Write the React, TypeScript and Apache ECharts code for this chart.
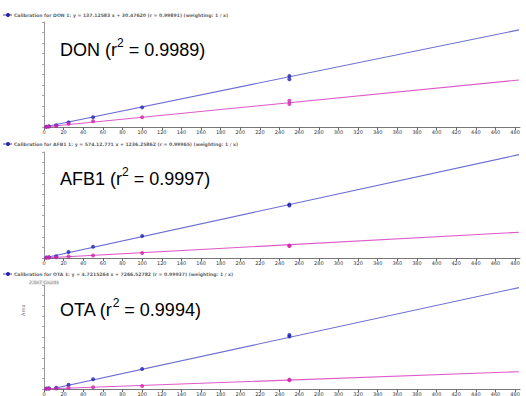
import React, { useEffect, useRef } from 'react';
import * as echarts from 'echarts';

// concentrations (x) for each calibration level (last level has two replicates)
const concentrations = [2.5, 5, 12.5, 25, 50, 100, 250, 250];

// responses (arbitrary units, 0-100 of the panel height)
const donBlue = [0.3, 0.6, 1.6, 4.4, 9.2, 18.7, 48.5, 45.5];
const donPink = [0.2, 0.4, 1.0, 3.0, 5.5, 9.3, 25.0, 22.0];
const afbBlue = [0.4, 0.8, 1.6, 5.7, 10.7, 20.8, 50.5, 49.5];
const afbPink = [0.2, 0.4, 0.8, 1.5, 2.4, 4.7, 11.8, 11.3];
const otaBlue = [0.4, 0.7, 1.2, 4.1, 9.3, 19.2, 52.0, 50.5];
const otaPink = [0.2, 0.3, 0.5, 1.1, 1.7, 2.9, 9.0, 8.4];

// regression line end points
const fitX = [0, 484];
const donBlueFit = [0, 92.5];
const donPinkFit = [0, 44.8];
const afbBlueFit = [0, 97.5];
const afbPinkFit = [0, 24.3];
const otaBlueFit = [-1.5, 97.5];
const otaPinkFit = [0, 16.6];

const analytes = ['DON', 'AFB1', 'OTA'];
const r2Values = ['0.9989', '0.9997', '0.9994'];
const headers = [
  'Calibration for DON 1: y = 137.12583 x + 30.47620 (r = 0.99891) (weighting: 1 / x)',
  'Calibration for AFB1 1: y = 574.12.771 x + 1236.25862 (r = 0.99965) (weighting: 1 / x)',
  'Calibration for OTA 1: y = 4.7215264 x + 7266.52782 (r = 0.99937) (weighting: 1 / x)',
];

const X_MAX = 485;
const X_INTERVAL = 20;

const gridTops = [22, 152, 285];
const gridHeights = [105, 106, 104];
const titleTops = [37, 166, 297];
const headerTops = [12, 141, 271];

const App: React.FC = () => {
  const ref = useRef<HTMLDivElement>(null);

  useEffect(() => {
    if (!ref.current) return;
    const chart = echarts.init(ref.current, null, { renderer: 'svg' });

    const panels = [
      { blue: donBlue, pink: donPink, bf: donBlueFit, pf: donPinkFit },
      { blue: afbBlue, pink: afbPink, bf: afbBlueFit, pf: afbPinkFit },
      { blue: otaBlue, pink: otaPink, bf: otaBlueFit, pf: otaPinkFit },
    ];

    const grid = gridTops.map((t, i) => ({ left: 44, right: 6, top: t, height: gridHeights[i] }));
    const xAxis = gridTops.map((_, i) => ({
      type: 'value',
      gridIndex: i,
      min: 0,
      max: X_MAX,
      interval: X_INTERVAL,
      axisLine: { lineStyle: { color: '#777', width: 1 } },
      axisTick: { length: 3, lineStyle: { color: '#666' } },
      axisLabel: {
        fontSize: 5,
        color: '#333',
        margin: 2,
        showMaxLabel: false,
        fontFamily: 'DejaVu Sans',
      },
      splitLine: { show: false },
    }));
    const yAxis = gridTops.map((_, i) => ({
      type: 'value',
      gridIndex: i,
      min: 0,
      max: 100,
      interval: 10,
      axisLine: { show: true, lineStyle: { color: '#999', width: 1 } },
      axisTick: { show: true, length: 2, lineStyle: { color: '#aaa' } },
      axisLabel: { show: false },
      splitLine: { show: false },
    }));

    const series: any[] = [];
    panels.forEach((p, i) => {
      series.push({
        type: 'line',
        xAxisIndex: i,
        yAxisIndex: i,
        data: fitX.map((x, k) => [x, p.bf[k]]),
        symbol: 'none',
        lineStyle: { color: '#6e6ed2', width: 1.1 },
        z: 2,
      });
      series.push({
        type: 'line',
        xAxisIndex: i,
        yAxisIndex: i,
        data: fitX.map((x, k) => [x, p.pf[k]]),
        symbol: 'none',
        lineStyle: { color: '#dd5ac8', width: 1.1 },
        z: 2,
      });
      series.push({
        type: 'scatter',
        xAxisIndex: i,
        yAxisIndex: i,
        data: concentrations.map((x, k) => [x, p.blue[k]]),
        symbolSize: 4,
        itemStyle: { color: '#2424b4' },
        z: 3,
      });
      series.push({
        type: 'scatter',
        xAxisIndex: i,
        yAxisIndex: i,
        data: concentrations.map((x, k) => [x, p.pink[k]]),
        symbolSize: 4,
        itemStyle: { color: '#d424a8' },
        z: 3,
      });
    });

    const graphic: any[] = [];
    analytes.forEach((name, i) => {
      graphic.push({
        type: 'text',
        left: 60,
        top: titleTops[i],
        style: {
          text: `{m|${name} (r}{s|2}{m| = ${r2Values[i]})}`,
          rich: {
            m: { fontSize: 18, fontFamily: 'Liberation Sans', fill: '#000', lineHeight: 22, verticalAlign: 'bottom' },
            s: { fontSize: 12, fontFamily: 'Liberation Sans', fill: '#000', lineHeight: 22, verticalAlign: 'top' },
          },
        },
        z: 10,
      });
      graphic.push({
        type: 'line',
        shape: { x1: 3, y1: headerTops[i] + 3, x2: 12, y2: headerTops[i] + 3 },
        style: { stroke: '#4444aa', lineWidth: 1 },
      });
      graphic.push({
        type: 'circle',
        shape: { cx: 8, cy: headerTops[i] + 3, r: 2 },
        style: { fill: '#2222aa' },
      });
      graphic.push({
        type: 'text',
        left: 14,
        top: headerTops[i] + 0.5,
        style: {
          text: headers[i],
          fontSize: 4.6,
          fontFamily: 'DejaVu Sans',
          fontWeight: 'bold',
          fill: '#666',
        },
      });
    });
    graphic.push({
      type: 'text',
      left: 29,
      top: 280,
      style: { text: '2.0e7 Counts', fontSize: 4.5, fontFamily: 'DejaVu Sans', fill: '#777', backgroundColor: '#eee' },
    });
    graphic.push({
      type: 'text',
      x: 20,
      y: 316,
      rotation: Math.PI / 2,
      style: { text: 'Area', fontSize: 5, fontFamily: 'DejaVu Sans', fill: '#777' },
    });

    chart.setOption({
      animation: false,
      backgroundColor: '#ffffff',
      grid,
      xAxis,
      yAxis,
      series,
      graphic,
    });

    return () => chart.dispose();
  }, []);

  return (
    <div
      ref={ref}
      style={{ position: 'fixed', left: 0, top: 0, width: 526, height: 396, background: '#fff' }}
    />
  );
};

export default App;
